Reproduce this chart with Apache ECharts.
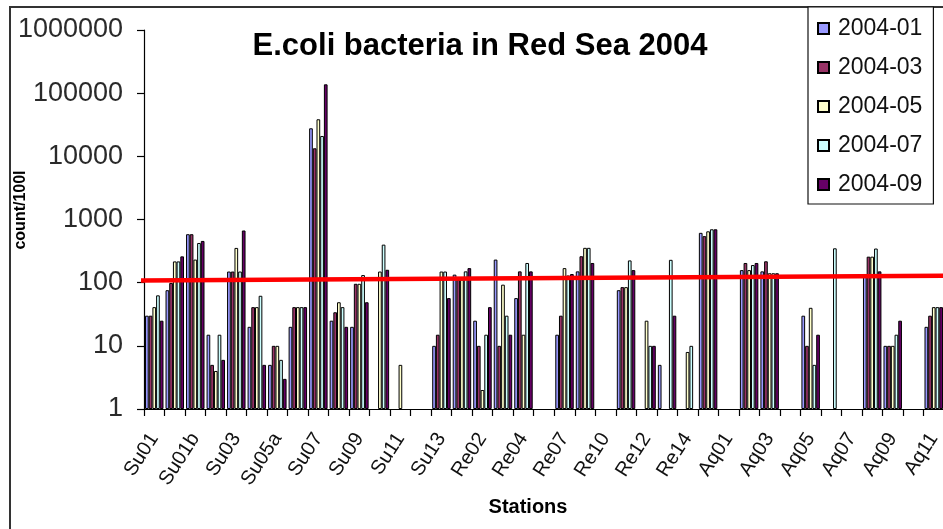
<!DOCTYPE html>
<html>
<head>
<meta charset="utf-8">
<title>E.coli bacteria in Red Sea 2004</title>
<script src="https://cdn.jsdelivr.net/npm/echarts@6/dist/echarts.min.js"></script>
<style>
  html, body { margin: 0; padding: 0; background: #ffffff; }
  #chart { width: 943px; height: 529px; }
</style>
</head>
<body>
<div id="chart"></div>
<script>
// Sampling stations (every other name is printed on the axis)
const stations = [
  'Su01', 'Su01a', 'Su01b', 'Su02', 'Su03', 'Su04', 'Su05a', 'Su06', 'Su07', 'Su08',
  'Su09', 'Su10', 'Su11', 'Su12', 'Su13', 'Re01', 'Re02', 'Re03', 'Re04', 'Re05',
  'Re07', 'Re08', 'Re10', 'Re11', 'Re12', 'Re13', 'Re14', 'Re15', 'Aq01', 'Aq02',
  'Aq03', 'Aq04', 'Aq05', 'Aq06', 'Aq07', 'Aq08', 'Aq09', 'Aq10', 'Aq11'
];

// E.coli counts per 100 l, one array per sampling month (null = no sample)
const jan2004 = [30, 76, 585, 15, 150, 20, 5, 20, 27800, 25,
  20, null, null, null, 10, 134, 25, 232, 57, null,
  15, 151, null, 76, null, 5, null, 615, null, 158,
  151, null, 30, null, null, 126, 10, null, 20];
const mar2004 = [30, 99, 585, 5, 150, 41, 10, 41, 13400, 34,
  96, null, null, null, 15, 112, 10, 10, 151, null,
  30, 262, null, 85, null, null, null, 545, null, 205,
  218, null, 10, null, null, 258, 10, null, 30];
const may2004 = [41, 217, 232, 4, 355, 41, 10, 41, 38600, 49,
  96, 150, 5, null, 150, 112, 2, 93, 15, null,
  170, 356, null, 85, 25, null, 8, 650, null, 158,
  141, null, 40, null, null, 258, 10, null, 41];
const jul2004 = [63, 217, 425, 15, 150, 62, 6, 41, 21000, 41,
  132, 400, null, null, 150, 151, 15, 30, 205, null,
  130, 356, null, 225, 10, 230, 10, 700, null, 190,
  141, null, 5, 350, null, 347, 15, null, 41];
const sep2004 = [25, 261, 458, 6, 670, 5, 3, 41, 138000, 20,
  49, 160, null, null, 57, 170, 41, 15, 151, null,
  137, 205, null, 158, 10, 30, null, 700, null, 205,
  141, null, 15, null, null, 151, 25, null, 41];

const seriesNames = ['2004-01', '2004-03', '2004-05', '2004-07', '2004-09'];
const seriesColors = ['#9999ff', '#993366', '#ffffcc', '#ccffff', '#660066'];
const seriesValues = [jan2004, mar2004, may2004, jul2004, sep2004];

// Guide line drawn across the plot: [station position, count]
const guideLine = [[-0.5, 108], [39, 129]];

const font = 'Liberation Sans, Arial, sans-serif';

const chart = echarts.init(document.getElementById('chart'), null, { renderer: 'canvas' });

const barSeries = seriesNames.map((name, i) => ({
  name: name,
  type: 'bar',
  xAxisIndex: 0,
  yAxisIndex: 0,
  data: seriesValues[i],
  barGap: '0%',
  barCategoryGap: '10%',
  itemStyle: { color: seriesColors[i], borderColor: '#000000', borderWidth: 1 },
  emphasis: { disabled: true },
  animation: false
}));

chart.setOption({
  animation: false,
  backgroundColor: '#ffffff',
  grid: {
    left: 144, top: 30, width: 800, height: 379,
    containLabel: false,
    outerBoundsMode: 'none'
  },
  legend: {
    left: 808,
    top: 7,
    orient: 'vertical',
    data: seriesNames,
    itemWidth: 11,
    itemHeight: 11,
    itemGap: 16,
    padding: [10, 11, 8, 9],
    borderColor: '#111111',
    borderWidth: 1.2,
    backgroundColor: '#ffffff',
    icon: 'rect',
    textStyle: { fontFamily: font, fontSize: 23, color: '#111111', padding: [0, 0, 0, 4] },
    selectedMode: false
  },
  xAxis: [
    {
      type: 'category',
      data: stations,
      boundaryGap: true,
      axisLine: { show: true, lineStyle: { color: '#000000', width: 1.2 } },
      axisTick: { show: true, interval: 0, length: 7, lineStyle: { color: '#000000', width: 1.2 } },
      axisLabel: {
        interval: 1,
        rotate: 57,
        margin: 26,
        fontFamily: font,
        fontSize: 20,
        color: '#111111'
      },
      splitLine: { show: false }
    },
    {
      type: 'value',
      min: 0,
      max: 39,
      show: false
    }
  ],
  yAxis: {
    type: 'log',
    logBase: 10,
    min: 1,
    max: 1000000,
    axisLine: { show: true, lineStyle: { color: '#000000', width: 1.2 } },
    axisTick: { show: true, length: 7, lineStyle: { color: '#000000', width: 1.2 } },
    axisLabel: {
      margin: 21,
      fontFamily: font,
      fontSize: 27,
      color: '#2a2a2a',
      formatter: v => String(Math.round(v))
    },
    splitLine: { show: false },
    minorTick: { show: false }
  },
  series: barSeries.concat([{
    name: 'guide',
    type: 'line',
    xAxisIndex: 1,
    yAxisIndex: 0,
    data: guideLine,
    symbol: 'none',
    clip: false,
    lineStyle: { color: '#ff0000', width: 4.5 },
    z: 10,
    silent: true,
    animation: false
  }]),
  graphic: [
    {
      type: 'rect',
      z: -10,
      shape: { x: 10, y: 7, width: 1000, height: 600 },
      style: { fill: 'none', stroke: '#333333', lineWidth: 2 }
    },
    {
      type: 'text',
      x: 480,
      y: 46,
      style: {
        text: 'E.coli bacteria in Red Sea 2004',
        font: 'bold 31px ' + font,
        fill: '#000000',
        align: 'center',
        verticalAlign: 'middle'
      }
    },
    {
      type: 'text',
      x: 21,
      y: 210,
      rotation: Math.PI / 2,
      style: {
        text: 'count/100l',
        font: 'bold 16px ' + font,
        fill: '#000000',
        align: 'center',
        verticalAlign: 'middle'
      }
    },
    {
      type: 'text',
      x: 528,
      y: 507,
      style: {
        text: 'Stations',
        font: 'bold 20px ' + font,
        fill: '#000000',
        align: 'center',
        verticalAlign: 'middle'
      }
    }
  ]
});
</script>
</body>
</html>
